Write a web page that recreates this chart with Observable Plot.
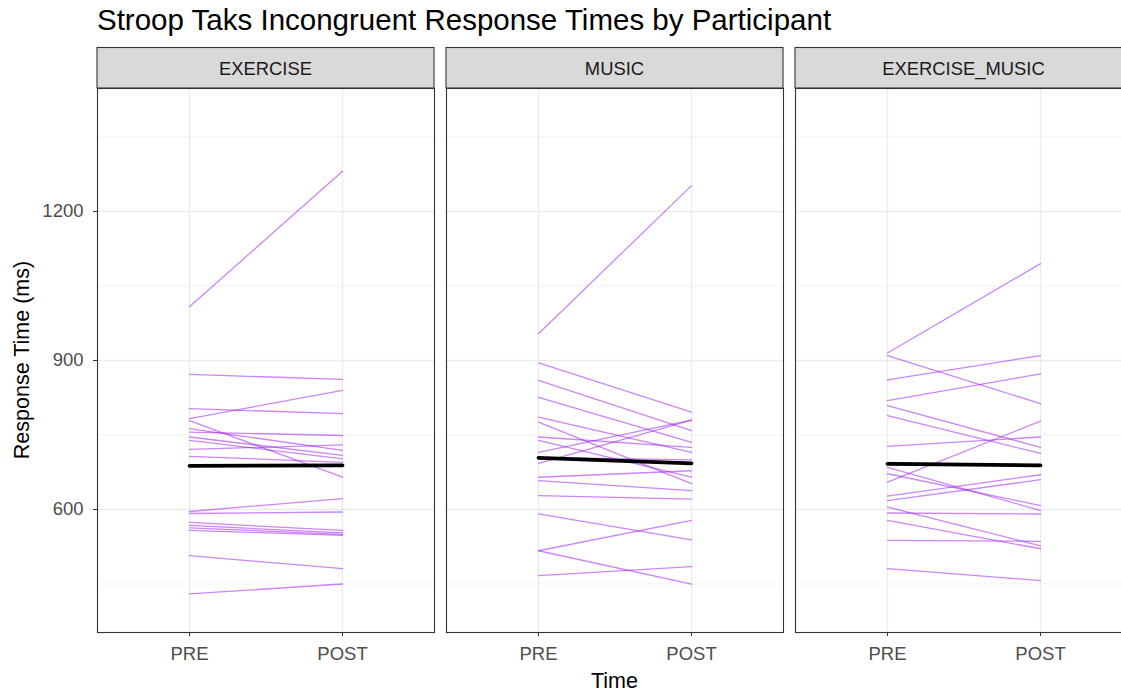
<!DOCTYPE html>
<html>
<head>
<meta charset="utf-8">
<script src="https://cdn.jsdelivr.net/npm/d3@7"></script>
<script src="https://cdn.jsdelivr.net/npm/@observablehq/plot@0.6"></script>
<style>
  html, body { margin: 0; padding: 0; background: #fff; overflow: hidden; width: 1121px; height: 694px; }
  #title {
    font-family: "Liberation Sans", Arial, sans-serif;
    font-size: 29.5px; line-height: 29.5px; color: #000;
    height: 47px; box-sizing: border-box; padding: 5px 0 0 97px; white-space: nowrap;
  }
  #chart svg { max-width: none !important; display: block; }
</style>
</head>
<body>
<div id="title">Stroop Taks Incongruent Response Times by Participant</div>
<div id="chart"></div>
<script>
// Conditions (facets) and measurement times
const groups = ["EXERCISE", "MUSIC", "EXERCISE_MUSIC"];
const times = ["PRE", "POST"];

// Incongruent response times (ms) per participant, PRE and POST
const exercisePre  = [1008, 872, 803, 783, 779, 763, 756, 746, 739, 721, 707, 596, 592, 574, 568, 563, 558, 507, 430];
const exercisePost = [1281, 862, 793, 840, 665, 719, 749, 709, 702, 730, 695, 622, 595, 558, 553, 550, 548, 481, 450];

const musicPre  = [954, 895, 860, 826, 786, 776, 746, 739, 715, 705, 693, 665, 658, 628, 591, 517, 517, 467];
const musicPost = [1252, 796, 759, 735, 715, 652, 725, 665, 780, 700, 780, 678, 638, 621, 539, 578, 450, 485];

const exMusicPre  = [915, 910, 861, 819, 809, 789, 727, 695, 685, 672, 655, 627, 618, 605, 593, 578, 538, 481];
const exMusicPost = [1095, 813, 910, 873, 725, 713, 746, 689, 598, 608, 778, 670, 660, 527, 591, 521, 536, 457];

// Group mean response times (ms)
const meanPre  = [688, 704, 692];
const meanPost = [689, 693, 689];

// Axis ticks
const yTicks = [600, 900, 1200];
const yMinor = [450, 750, 1050, 1350];

const series = {
  EXERCISE: [exercisePre, exercisePost],
  MUSIC: [musicPre, musicPost],
  EXERCISE_MUSIC: [exMusicPre, exMusicPost]
};

const rows = [];
groups.forEach(g => {
  const [pre, post] = series[g];
  pre.forEach((v, i) => {
    rows.push({group: g, id: `${g}-${i}`, time: "PRE", rt: v});
    rows.push({group: g, id: `${g}-${i}`, time: "POST", rt: post[i]});
  });
});
const means = groups.flatMap((g, i) => [
  {group: g, time: "PRE", rt: meanPre[i]},
  {group: g, time: "POST", rt: meanPost[i]}
]);

const W = 1134, H = 647, ML = 97, MR = 2, MT = 41, MB = 62;
const font = "'Liberation Sans', Arial, sans-serif";

const plot = Plot.plot({
  width: W, height: H,
  marginLeft: ML, marginRight: MR, marginTop: MT, marginBottom: MB,
  style: {fontFamily: font, maxWidth: "none", overflow: "visible", background: "#fff"},
  fx: {domain: groups, paddingInner: 12 / 349, paddingOuter: 0, axis: null, label: null},
  x: {type: "point", domain: times, padding: 0.6, label: null},
  y: {domain: [352.4, 1447.6], label: null},
  marks: [
    Plot.gridY(yMinor, {stroke: "#ebebeb", strokeOpacity: 1, strokeWidth: 0.7}),
    Plot.gridY(yTicks, {stroke: "#ebebeb", strokeOpacity: 1, strokeWidth: 1.3}),
    Plot.gridX(times, {stroke: "#ebebeb", strokeOpacity: 1, strokeWidth: 1.3}),
    Plot.line(rows, {fx: "group", x: "time", y: "rt", z: "id", stroke: "#a020f0", strokeOpacity: 0.55, strokeWidth: 1.3}),
    Plot.line(means, {fx: "group", x: "time", y: "rt", stroke: "#000", strokeWidth: 3.8}),
    Plot.frame({stroke: "#333", strokeWidth: 1.1}),
    Plot.axisY(yTicks, {anchor: "left", tickSize: 4, tickPadding: 10, fontSize: 18.5, tickFormat: d => String(d),
      stroke: "#333", fill: "#4d4d4d", strokeOpacity: 1, label: null}),
    Plot.axisX(times, {anchor: "bottom", tickSize: 4, tickPadding: 10, fontSize: 18.5,
      stroke: "#333", fill: "#4d4d4d", strokeOpacity: 1, label: null})
  ]
});

document.getElementById("chart").appendChild(plot);

// Facet strips drawn over each panel using the fx scale
const svg = d3.select(plot);
const fx = plot.scale("fx");
const strips = svg.append("g");
groups.forEach(g => {
  const x0 = fx.apply(g);
  strips.append("rect")
    .attr("x", x0).attr("y", 0.5)
    .attr("width", fx.bandwidth).attr("height", MT - 0.5)
    .attr("fill", "#d9d9d9").attr("stroke", "#333").attr("stroke-width", 1.1);
  strips.append("text")
    .attr("x", x0 + fx.bandwidth / 2).attr("y", MT / 2 + 1)
    .attr("text-anchor", "middle").attr("dominant-baseline", "central")
    .attr("font-family", font).attr("font-size", 18.4).attr("fill", "#1a1a1a")
    .text(g);
});

// Axis titles
svg.append("text")
  .attr("transform", `translate(22, ${(MT + H - MB) / 2}) rotate(-90)`)
  .attr("text-anchor", "middle").attr("dominant-baseline", "central")
  .attr("font-family", font).attr("font-size", 21.5).attr("fill", "#000")
  .text("Response Time (ms)");
svg.append("text")
  .attr("x", ML + (W - ML - MR) / 2).attr("y", H - 13)
  .attr("text-anchor", "middle").attr("dominant-baseline", "central")
  .attr("font-family", font).attr("font-size", 21.5).attr("fill", "#000")
  .text("Time");
</script>
</body>
</html>
